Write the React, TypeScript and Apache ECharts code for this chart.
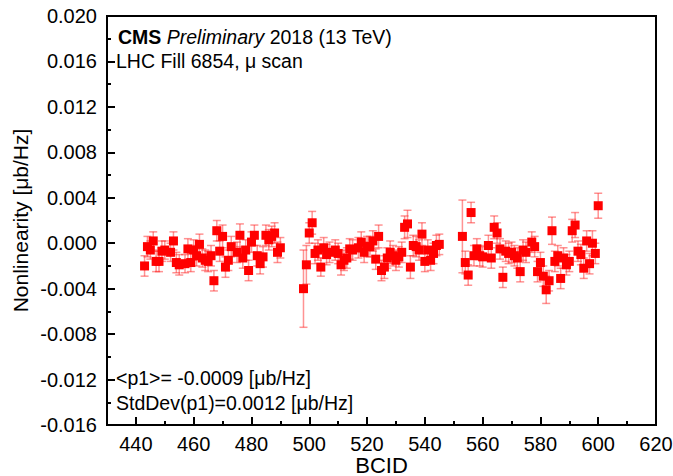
import React, { useEffect, useRef } from "react";
import * as echarts from "echarts";

const bcid = [
  443, 444, 445, 446, 447, 448, 449, 450, 452, 453, 454, 455, 457, 458, 459, 460, 461, 462, 463, 464, 465, 466, 467, 468, 469, 470, 471, 472, 473, 475, 476, 477, 478, 479, 480, 481, 482, 483, 484, 485, 486, 487, 488, 489, 490,
  498, 499, 500, 501, 502, 503, 504, 505, 506, 507, 509, 510, 511, 512, 513, 514, 515, 517, 518, 519, 520, 521, 522, 523, 524, 525, 526, 527, 528, 529, 530, 531, 532, 533, 534, 535, 536, 537, 538, 539, 540, 541, 542, 543, 544, 545,
  553, 554, 555, 556, 557, 558, 559, 560, 562, 563, 564, 565, 566, 567, 568, 569, 570, 571, 572, 573, 574, 575, 577, 578, 579, 580, 581, 582, 583, 584, 585, 586, 587, 588, 589, 590, 591, 592, 593, 594, 595, 596, 597, 598, 599, 600,
];

const nonlinearity = [
  -0.0020, -0.0003, -0.0006, 0.0002, -0.0016, -0.0016, -0.0007, -0.0006, -0.0008, 0.0002, -0.0017, -0.0019, -0.0018, -0.0005, -0.0017, -0.0006, -0.0011, -0.0001, -0.0013, -0.0015, -0.0016, -0.0011, -0.0033, 0.0011, -0.0007, 0.0006, -0.0021, -0.0015, -0.0003, -0.0008, 0.0007, -0.0013, -0.0006, -0.0024, 0.0001, 0.0007, -0.0011, -0.0018, -0.0012, 0.0007, 0.0003, 0.0006, 0.0009, -0.0008, -0.0004,
  -0.0040, -0.0019, 0.0009, 0.0018, -0.0009, -0.0006, -0.0021, -0.0004, -0.0010, -0.0008, -0.0006, -0.0009, -0.0019, -0.0015, -0.0013, -0.0005, -0.0006, -0.0004, 0.0001, -0.0008, -0.0003, -0.0003, 0.0002, -0.0014, 0.0006, -0.0024, -0.0021, -0.0013, -0.0008, -0.0011, -0.0015, -0.0012, -0.0008, 0.0014, 0.0017, -0.0021, -0.0002, -0.0003, -0.0006, 0.0008, -0.0016, -0.0006, -0.0015, -0.0009, -0.0002, -0.0001,
  0.0006, -0.0017, -0.0028, 0.0027, -0.0011, -0.0005, -0.0011, -0.0012, -0.0002, -0.0013, 0.0014, 0.0009, -0.0005, -0.0030, -0.0007, -0.0009, -0.0008, -0.0011, -0.0013, -0.0025, -0.0006, -0.0008, 0.0001, -0.0003, -0.0025, -0.0017, -0.0029, -0.0041, -0.0033, 0.0011, -0.0016, -0.0011, -0.0031, -0.0013, -0.0019, -0.0016, 0.0011, 0.0016, -0.0007, -0.0010, -0.0022, 0.0002, -0.0018, 0.0000, -0.0009, 0.0033,
];

const errors = [
  0.0009, 0.0009, 0.0008, 0.0008, 0.0009, 0.0009, 0.0009, 0.0008, 0.0008, 0.0008, 0.0009, 0.0009, 0.0008, 0.0009, 0.0008, 0.0009, 0.0009, 0.0009, 0.0008, 0.0009, 0.0009, 0.0009, 0.0009, 0.0009, 0.0009, 0.0010, 0.0009, 0.0009, 0.0009, 0.0009, 0.0010, 0.0009, 0.0009, 0.0009, 0.0009, 0.0009, 0.0009, 0.0009, 0.0009, 0.0009, 0.0009, 0.0009, 0.0009, 0.0009, 0.0009,
  0.0034, 0.0017, 0.0009, 0.0010, 0.0009, 0.0009, 0.0008, 0.0009, 0.0009, 0.0009, 0.0009, 0.0009, 0.0009, 0.0009, 0.0009, 0.0009, 0.0009, 0.0009, 0.0009, 0.0009, 0.0009, 0.0009, 0.0009, 0.0009, 0.0010, 0.0009, 0.0010, 0.0009, 0.0010, 0.0009, 0.0009, 0.0009, 0.0009, 0.0010, 0.0012, 0.0010, 0.0009, 0.0009, 0.0009, 0.0010, 0.0009, 0.0009, 0.0009, 0.0009, 0.0009, 0.0009,
  0.0032, 0.0010, 0.0009, 0.0009, 0.0009, 0.0009, 0.0009, 0.0009, 0.0009, 0.0009, 0.0010, 0.0009, 0.0009, 0.0009, 0.0009, 0.0009, 0.0009, 0.0009, 0.0009, 0.0009, 0.0009, 0.0009, 0.0009, 0.0009, 0.0009, 0.0009, 0.0009, 0.0012, 0.0009, 0.0012, 0.0009, 0.0009, 0.0009, 0.0009, 0.0009, 0.0009, 0.0010, 0.0011, 0.0009, 0.0009, 0.0009, 0.0009, 0.0009, 0.0011, 0.0009, 0.0011,
];

const xMajorTicks = [440, 460, 480, 500, 520, 540, 560, 580, 600, 620];
const xMinorTicks = [450, 470, 490, 510, 530, 550, 570, 590, 610];

const FONT = "'Liberation Sans', Arial, Helvetica, sans-serif";
const NOTE_SIZE = 19.5;

export default function App() {
  const ref = useRef<HTMLDivElement>(null);

  useEffect(() => {
    if (!ref.current) return;
    const chart = echarts.init(ref.current, undefined, { renderer: "svg" });
    const points = bcid.map((x, i) => [x, nonlinearity[i], errors[i]]);

    const noteStyle = (text: string) => ({
      text,
      fontSize: NOTE_SIZE,
      fontFamily: FONT,
      fill: "#000",
      verticalAlign: "middle",
    });

    const option: any = {
      animation: false,
      backgroundColor: "#fff",
      textStyle: { fontFamily: FONT },
      grid: {
        left: 107,
        right: 17,
        top: 16,
        bottom: 51,
        containLabel: false,
        outerBoundsMode: "none",
        show: true,
        borderColor: "#000",
        borderWidth: 2,
        backgroundColor: "transparent",
      },
      xAxis: [
        {
          type: "value",
          min: 430,
          max: 620,
          position: "bottom",
          name: "BCID",
          nameLocation: "middle",
          nameGap: 30,
          nameMoveOverlap: false,
          nameTextStyle: { fontSize: 22, color: "#000", fontFamily: FONT, verticalAlign: "top", lineHeight: 20 },
          axisLine: { show: true, onZero: false, lineStyle: { color: "#000", width: 2 } },
          axisTick: {
            show: true,
            inside: true,
            length: 8,
            customValues: xMajorTicks,
            lineStyle: { color: "#000", width: 2 },
          },
          axisLabel: {
            show: true,
            customValues: xMajorTicks,
            fontSize: 20,
            color: "#000",
            fontFamily: FONT,
            margin: 9,
          },
          splitLine: { show: false },
        },
        {
          type: "value",
          min: 430,
          max: 620,
          position: "bottom",
          axisLine: { show: false, onZero: false },
          axisTick: {
            show: true,
            inside: true,
            length: 4,
            customValues: xMinorTicks,
            lineStyle: { color: "#000", width: 2 },
          },
          axisLabel: { show: false },
          splitLine: { show: false },
        },
      ],
      yAxis: {
        type: "value",
        min: -0.016,
        max: 0.02,
        interval: 0.004,
        name: "Nonlinearity [\u03bcb/Hz]",
        nameLocation: "middle",
        nameGap: 76,
        nameMoveOverlap: false,
        nameTextStyle: { fontSize: 21, color: "#000", fontFamily: FONT },
        axisLine: { show: true, onZero: false, lineStyle: { color: "#000", width: 2 } },
        axisTick: { show: true, inside: true, length: 8, lineStyle: { color: "#000", width: 2 } },
        minorTick: { show: true, splitNumber: 2, length: 4, lineStyle: { color: "#000", width: 2 } },
        axisLabel: {
          fontSize: 20,
          color: "#000",
          fontFamily: FONT,
          margin: 10,
          formatter: (v: number) => (Math.abs(v) < 1e-9 ? "0.000" : v.toFixed(3)),
        },
        splitLine: { show: false },
        minorSplitLine: { show: false },
      },
      graphic: [
        {
          type: "text",
          x: 118,
          y: 37,
          style: {
            ...noteStyle("{b|CMS} {i|Preliminary} 2018 (13 TeV)"),
            rich: {
              b: { fontWeight: "bold", fontSize: NOTE_SIZE, fontFamily: FONT },
              i: { fontStyle: "italic", fontSize: NOTE_SIZE, fontFamily: FONT },
            },
          },
        },
        { type: "text", x: 116, y: 61, style: noteStyle("LHC Fill 6854, \u03bc scan") },
        { type: "text", x: 116, y: 378, style: noteStyle("<p1>= -0.0009 [\u03bcb/Hz]") },
        { type: "text", x: 116, y: 403, style: noteStyle("StdDev(p1)=0.0012 [\u03bcb/Hz]") },
      ],
      series: [
        {
          type: "custom",
          name: "errors",
          xAxisIndex: 0,
          data: points,
          z: 1,
          renderItem: (params: any, api: any) => {
            const x = api.value(0);
            const y = api.value(1);
            const e = api.value(2);
            const top = api.coord([x, y + e]);
            const bot = api.coord([x, y - e]);
            const cap = 4;
            const style = { stroke: "rgba(255,40,40,0.5)", lineWidth: 1.5 };
            return {
              type: "group",
              children: [
                { type: "line", shape: { x1: top[0], y1: top[1], x2: bot[0], y2: bot[1] }, style },
                { type: "line", shape: { x1: top[0] - cap, y1: top[1], x2: top[0] + cap, y2: top[1] }, style },
                { type: "line", shape: { x1: bot[0] - cap, y1: bot[1], x2: bot[0] + cap, y2: bot[1] }, style },
              ],
            };
          },
        },
        {
          type: "scatter",
          name: "p1",
          xAxisIndex: 0,
          data: points.map((p) => [p[0], p[1]]),
          symbol: "rect",
          symbolSize: 9,
          itemStyle: { color: "#ff0000", opacity: 1 },
          z: 3,
        },
      ],
    };

    chart.setOption(option);
    return () => chart.dispose();
  }, []);

  return (
    <div
      ref={ref}
      style={{ position: "absolute", left: 0, top: 0, width: 673, height: 476, background: "#fff" }}
    />
  );
}
